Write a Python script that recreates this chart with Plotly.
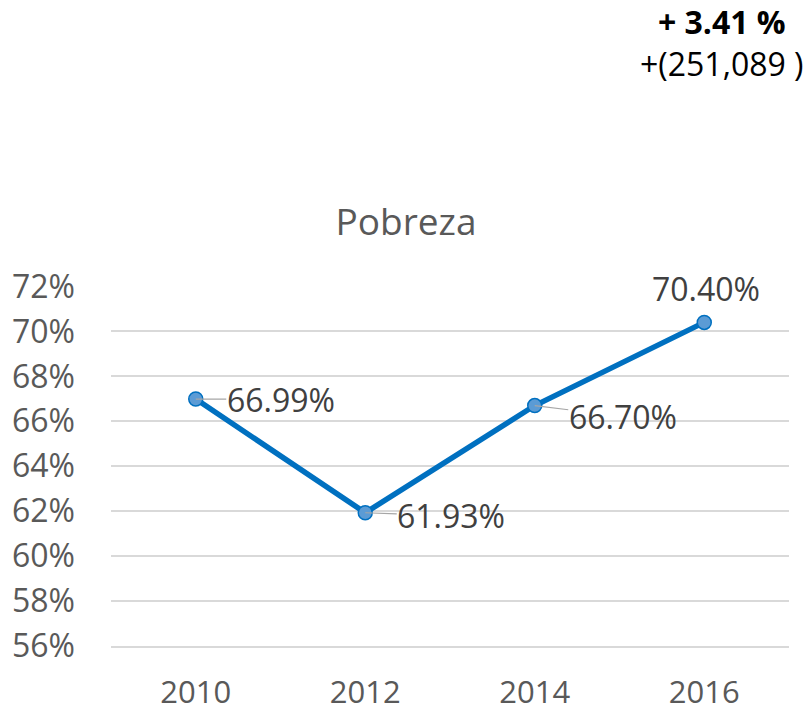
import plotly.graph_objects as go

years = ["2010", "2012", "2014", "2016"]
pobreza = [66.99, 61.93, 66.70, 70.40]
y_ticks = [56, 58, 60, 62, 64, 66, 68, 70, 72]
y_tick_labels = [f"{v}%" for v in y_ticks]
title_text = "Pobreza"
change_pct = "+ 3.41 %"
change_abs = "+(251,089 )"

FONT = "Open Sans"
LINE = "#0070C0"
GRID = "#D9D9D9"
L, R, T, B = 111, 23, 286, 65
PW, PH = 812 - L - R, 711 - T - B

fig = go.Figure()
fig.add_trace(go.Scatter(
    x=years, y=pobreza, mode="lines+markers",
    line=dict(color=LINE, width=5.5),
    marker=dict(size=14, color="#5B9BD5", line=dict(color=LINE, width=1.5)),
    hoverinfo="skip", showlegend=False,
))

# label offsets (pixels) relative to each point: (ax, ay, arrow)
offsets = [(85, 0, True), (86, 3, True), (88, 11, True), (2, -34, False)]
annotations = []
for i, (v, (ax, ay, arrow)) in enumerate(zip(pobreza, offsets)):
    txt = f"{v:.2f}%"
    if arrow:
        annotations.append(dict(
            x=i, y=v, xref="x", yref="y", text=txt, showarrow=True,
            ax=ax, ay=ay, axref="pixel", ayref="pixel",
            arrowhead=0, arrowwidth=1.2, arrowcolor="#A6A6A6", standoff=0,
            borderpad=0,
            font=dict(family=FONT, size=32, color="#404040"),
        ))
    else:
        annotations.append(dict(
            x=i, y=v, xref="x", yref="y", text=txt, showarrow=False,
            xshift=ax, yshift=-ay,
            font=dict(family=FONT, size=32, color="#404040"),
        ))

annotations.append(dict(
    x=(722 - L) / PW, y=(711 - B - 42) / PH, xref="paper", yref="paper",
    text=f"<b>{change_pct}</b><br>{change_abs}", showarrow=False,
    align="center", xanchor="center", yanchor="middle",
    font=dict(family=FONT, size=32, color="#000000"),
))

fig.update_layout(
    width=812, height=711,
    margin=dict(l=L, r=R, t=T, b=B),
    paper_bgcolor="white", plot_bgcolor="white",
    title=dict(text=title_text, x=0.5, xref="container", xanchor="center",
               y=1 - 222 / 711, yref="container", yanchor="middle",
               font=dict(family=FONT, size=37, color="#595959")),
    annotations=annotations,
    xaxis=dict(
        type="category", range=[-0.5, 3.5], showgrid=False, automargin=False,
        showline=True, linecolor=GRID, linewidth=1.5,
        ticks="", ticklabelstandoff=18,
        tickfont=dict(family=FONT, size=31, color="#595959"),
    ),
    yaxis=dict(
        range=[56, 72.02], tickvals=y_ticks, ticktext=y_tick_labels,
        showgrid=True, gridcolor=GRID, gridwidth=1.5, zeroline=False,
        automargin=False,
        showline=False, ticks="", ticklabelstandoff=35,
        tickfont=dict(family=FONT, size=32, color="#595959"),
    ),
)

fig.write_html("out.html")
